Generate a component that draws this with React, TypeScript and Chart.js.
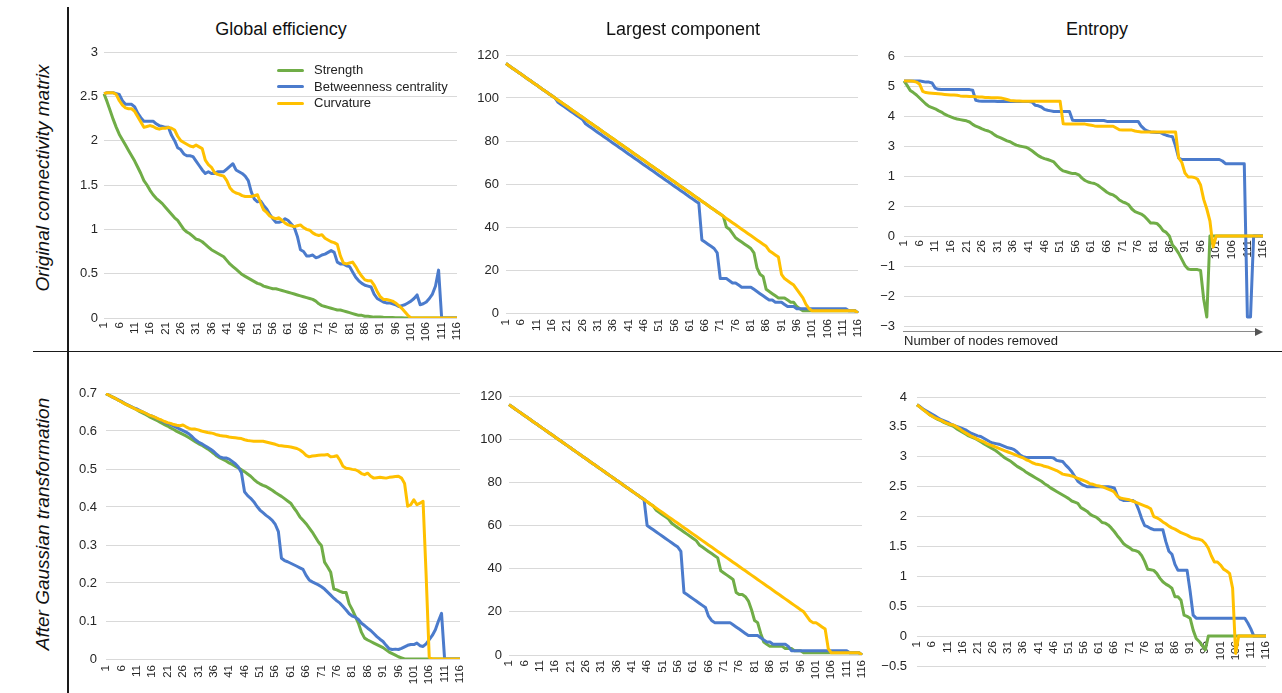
import React, { useEffect, useRef } from "react";
import { Chart, registerables } from "chart.js";

Chart.register(...registerables);

const FONT = '"Liberation Sans", Arial, Helvetica, sans-serif';
Chart.defaults.font.family = FONT;

const categories = [
  "1","2","3","4","5","6","7","8","9","10","11","12","13","14","15","16","17","18","19","20",
  "21","22","23","24","25","26","27","28","29","30","31","32","33","34","35","36","37","38","39","40",
  "41","42","43","44","45","46","47","48","49","50","51","52","53","54","55","56","57","58","59","60",
  "61","62","63","64","65","66","67","68","69","70","71","72","73","74","75","76","77","78","79","80",
  "81","82","83","84","85","86","87","88","89","90","91","92","93","94","95","96","97","98","99","100",
  "101","102","103","104","105","106","107","108","109","110","111","112","113","114","115","116"
];

const xTickLabels = ["1","6","11","16","21","26","31","36","41","46","51","56","61","66","71","76","81","86","91","96","101","106","111","116"];

const seriesNames = ["Strength", "Betweenness centrality", "Curvature"];
const seriesColors = ["#70AD47", "#4B7BCC", "#FFC000"];

// ---------- Original connectivity matrix ----------
const geOrigStrength = [
  2.53,2.44,2.34,2.24,2.15,2.07,2.01,1.95,1.89,1.83,
  1.77,1.70,1.63,1.55,1.50,1.44,1.39,1.35,1.32,1.29,
  1.25,1.21,1.17,1.13,1.10,1.05,1.00,0.97,0.95,0.92,
  0.89,0.88,0.86,0.83,0.80,0.77,0.75,0.73,0.71,0.69,
  0.65,0.61,0.58,0.55,0.52,0.49,0.47,0.45,0.43,0.41,
  0.39,0.38,0.36,0.35,0.34,0.33,0.33,0.32,0.31,0.30,
  0.29,0.28,0.27,0.26,0.25,0.24,0.23,0.22,0.21,0.19,
  0.16,0.14,0.13,0.12,0.11,0.10,0.09,0.09,0.08,0.07,
  0.06,0.05,0.04,0.03,0.03,0.02,0.02,0.015,0.01,0.01,
  0.01,0.008,0.007,0.006,0.005,0.004,0.003,0.002,0.001,0,
  0,0,0,0,0,0,0,0,0,0,
  0,0,0,0,0,0
];
const geOrigBetweenness = [
  2.53,2.54,2.54,2.54,2.53,2.52,2.45,2.41,2.41,2.41,
  2.38,2.31,2.26,2.22,2.22,2.22,2.22,2.19,2.17,2.16,
  2.15,2.15,2.06,2.00,1.92,1.90,1.85,1.83,1.83,1.82,
  1.77,1.72,1.67,1.63,1.65,1.63,1.63,1.65,1.65,1.65,
  1.68,1.71,1.74,1.67,1.65,1.63,1.60,1.55,1.42,1.34,
  1.31,1.32,1.27,1.23,1.17,1.12,1.08,1.08,1.09,1.12,
  1.10,1.06,1.02,0.92,0.77,0.75,0.70,0.70,0.71,0.68,
  0.69,0.71,0.72,0.74,0.76,0.74,0.63,0.61,0.61,0.59,
  0.58,0.52,0.46,0.42,0.39,0.37,0.36,0.35,0.27,0.22,
  0.20,0.18,0.17,0.17,0.16,0.15,0.13,0.14,0.15,0.17,
  0.19,0.22,0.26,0.15,0.16,0.18,0.22,0.27,0.36,0.54,
  0,0,0,0,0,0
];
const geOrigCurvature = [
  2.53,2.54,2.54,2.54,2.52,2.45,2.40,2.37,2.36,2.36,
  2.33,2.27,2.21,2.15,2.16,2.17,2.16,2.14,2.13,2.14,
  2.14,2.15,2.14,2.12,2.05,2.00,1.98,1.96,1.94,1.93,
  1.95,1.93,1.91,1.78,1.73,1.70,1.64,1.62,1.61,1.60,
  1.55,1.47,1.43,1.41,1.40,1.38,1.37,1.37,1.37,1.38,
  1.39,1.30,1.22,1.19,1.15,1.13,1.12,1.13,1.10,1.07,
  1.05,1.04,1.03,1.04,1.05,1.02,1.00,0.99,0.96,0.94,
  0.93,0.94,0.90,0.88,0.86,0.85,0.83,0.70,0.62,0.61,
  0.62,0.63,0.58,0.52,0.47,0.43,0.42,0.42,0.37,0.30,
  0.24,0.21,0.21,0.20,0.19,0.17,0.14,0.11,0.07,0.03,
  0,0,0,0,0,0,0,0,0,0,
  0,0,0,0,0,0
];

const lcOrigStrength = [
  116,115,114,113,112,111,110,109,108,107,
  106,105,104,103,102,101,100,99,98,97,
  96,95,94,93,92,91,90,89,88,87,
  86,85,84,83,82,81,80,79,78,77,
  76,75,74,73,72,71,70,69,68,67,
  66,65,64,63,62,61,60,59,58,57,
  56,55,54,53,52,51,50,49,48,47,
  46,45,40,39,37,35,34,33,32,31,
  30,28,21,18,17,11,10,9,8,7,
  7,7,6,5,5,3,2,1,1,1,
  1,1,1,1,1,1,1,1,1,1,
  1,1,1,1,1,0
];
const lcOrigBetweenness = [
  116,115,114,113,112,111,110,109,108,107,
  106,105,104,103,102,101,100,98,97,96,
  95,94,93,92,91,90,88,87,86,85,
  84,83,82,81,80,79,78,77,76,75,
  74,73,72,71,70,69,68,67,66,65,
  64,63,62,61,60,59,58,57,56,55,
  54,53,52,51,34,33,32,31,30,28,
  16,16,16,15,14,14,13,12,12,12,
  12,11,10,9,8,7,6,6,5,5,
  5,4,3,3,3,2,2,2,2,2,
  2,2,2,2,2,2,2,2,2,2,
  2,2,1,1,1,0
];
const lcOrigCurvature = [
  116,115,114,113,112,111,110,109,108,107,
  106,105,104,103,102,101,100,99,98,97,
  96,95,94,93,92,91,90,89,88,87,
  86,85,84,83,82,81,80,79,78,77,
  76,75,74,73,72,71,70,69,68,67,
  66,65,64,63,62,61,60,59,58,57,
  56,55,54,53,52,51,50,49,48,47,
  46,45,44,43,42,41,40,39,38,37,
  36,35,34,33,32,31,29,28,27,26,
  18,16,15,14,13,11,9,7,4,2,
  1,1,1,1,1,1,1,1,1,1,
  1,1,1,1,1,0
];

const entOrigStrength = [
  5.17,5.02,4.85,4.78,4.70,4.60,4.50,4.40,4.32,4.28,
  4.24,4.18,4.13,4.06,4.01,3.97,3.93,3.90,3.88,3.86,
  3.84,3.80,3.72,3.66,3.62,3.57,3.53,3.50,3.45,3.37,
  3.31,3.27,3.22,3.17,3.14,3.08,3.03,3.00,2.98,2.96,
  2.91,2.84,2.76,2.68,2.62,2.58,2.55,2.51,2.47,2.35,
  2.24,2.17,2.14,2.11,2.08,2.08,2.04,1.93,1.85,1.80,
  1.77,1.75,1.70,1.62,1.54,1.46,1.40,1.37,1.30,1.20,
  1.14,1.10,1.04,0.90,0.81,0.77,0.73,0.66,0.55,0.43,
  0.43,0.42,0.32,0.18,0.12,0.00,-0.30,-0.42,-0.58,-0.78,
  -0.98,-1.10,-1.12,-1.12,-1.12,-1.15,-2.10,-2.70,0,0,
  0,0,0,0,0,0,0,0,0,0,
  0,0,0,0,0,0
];
const entOrigBetweenness = [
  5.17,5.17,5.17,5.17,5.17,5.17,5.15,5.13,5.13,5.10,
  4.93,4.89,4.88,4.88,4.88,4.88,4.88,4.88,4.88,4.88,
  4.88,4.88,4.86,4.52,4.50,4.49,4.49,4.49,4.49,4.49,
  4.48,4.48,4.48,4.48,4.48,4.48,4.48,4.48,4.48,4.48,
  4.48,4.47,4.36,4.34,4.30,4.22,4.19,4.17,4.15,4.15,
  4.15,4.15,4.15,4.15,3.86,3.85,3.85,3.85,3.85,3.85,
  3.85,3.85,3.85,3.85,3.85,3.82,3.82,3.82,3.82,3.82,
  3.82,3.82,3.82,3.82,3.82,3.82,3.66,3.56,3.50,3.47,
  3.46,3.45,3.45,3.40,3.36,3.33,3.31,3.00,2.60,2.55,
  2.55,2.55,2.55,2.55,2.55,2.55,2.55,2.55,2.55,2.55,
  2.55,2.55,2.50,2.41,2.41,2.41,2.41,2.41,2.41,2.41,
  -2.70,-2.70,0,0,0,0
];
const entOrigCurvature = [
  5.17,5.17,5.17,5.16,5.13,5.06,4.82,4.78,4.77,4.76,
  4.75,4.74,4.73,4.72,4.71,4.70,4.70,4.69,4.67,4.66,
  4.66,4.65,4.65,4.64,4.63,4.63,4.62,4.62,4.61,4.61,
  4.61,4.60,4.58,4.55,4.52,4.51,4.50,4.50,4.49,4.49,
  4.49,4.49,4.49,4.49,4.49,4.49,4.49,4.49,4.49,4.49,
  4.49,3.74,3.73,3.73,3.73,3.73,3.73,3.73,3.73,3.71,
  3.69,3.67,3.66,3.66,3.66,3.66,3.66,3.66,3.60,3.54,
  3.53,3.53,3.53,3.53,3.50,3.48,3.47,3.47,3.47,3.47,
  3.47,3.47,3.47,3.47,3.47,3.47,3.47,3.47,2.60,2.45,
  2.10,1.97,1.97,1.95,1.90,1.70,1.22,0.90,0.50,-0.37,
  0,0,0,0,0,0,0,0,0,0,
  0,0,0,0,0,0
];

// ---------- After Gaussian transformation ----------
const geGaussStrength = [
  0.698,0.694,0.690,0.686,0.681,0.677,0.672,0.668,0.664,0.660,
  0.656,0.651,0.647,0.643,0.638,0.634,0.630,0.626,0.621,0.617,
  0.613,0.608,0.604,0.599,0.595,0.591,0.587,0.582,0.577,0.572,
  0.567,0.563,0.558,0.553,0.547,0.541,0.534,0.529,0.525,0.521,
  0.516,0.512,0.507,0.503,0.498,0.493,0.487,0.481,0.473,0.466,
  0.461,0.457,0.454,0.449,0.444,0.438,0.433,0.428,0.422,0.416,
  0.410,0.398,0.387,0.374,0.365,0.356,0.345,0.334,0.321,0.308,
  0.298,0.255,0.242,0.228,0.184,0.182,0.178,0.175,0.175,0.145,
  0.130,0.112,0.094,0.070,0.055,0.050,0.046,0.042,0.038,0.034,
  0.030,0.024,0.018,0.014,0.010,0.006,0.003,0,0,0,
  0,0,0,0,0,0,0,0,0,0,
  0,0,0,0,0,0
];
const geGaussBetweenness = [
  0.698,0.694,0.690,0.686,0.682,0.678,0.673,0.669,0.665,0.661,
  0.658,0.654,0.650,0.646,0.642,0.639,0.635,0.631,0.627,0.623,
  0.620,0.617,0.613,0.609,0.605,0.601,0.597,0.592,0.585,0.577,
  0.571,0.567,0.562,0.557,0.552,0.546,0.538,0.532,0.529,0.529,
  0.526,0.520,0.514,0.505,0.490,0.440,0.430,0.423,0.414,0.402,
  0.392,0.385,0.378,0.372,0.365,0.354,0.335,0.265,0.259,0.256,
  0.252,0.248,0.244,0.240,0.236,0.220,0.208,0.203,0.199,0.195,
  0.190,0.184,0.176,0.168,0.160,0.153,0.147,0.138,0.129,0.119,
  0.113,0.110,0.104,0.094,0.088,0.081,0.075,0.067,0.059,0.052,
  0.046,0.036,0.027,0.025,0.026,0.025,0.028,0.032,0.036,0.038,
  0.038,0.042,0.035,0.033,0.040,0.051,0.062,0.077,0.100,0.120,
  0,0,0,0,0,0
];
const geGaussCurvature = [
  0.698,0.694,0.690,0.686,0.681,0.677,0.672,0.668,0.664,0.660,
  0.656,0.653,0.650,0.646,0.642,0.639,0.636,0.632,0.629,0.625,
  0.622,0.620,0.617,0.615,0.614,0.616,0.611,0.607,0.605,0.605,
  0.603,0.600,0.598,0.596,0.595,0.593,0.590,0.588,0.587,0.586,
  0.584,0.583,0.582,0.581,0.580,0.577,0.575,0.574,0.573,0.573,
  0.573,0.573,0.571,0.569,0.567,0.565,0.562,0.561,0.560,0.559,
  0.558,0.556,0.554,0.550,0.544,0.536,0.532,0.534,0.535,0.536,
  0.537,0.537,0.538,0.532,0.533,0.535,0.523,0.507,0.502,0.501,
  0.499,0.498,0.494,0.488,0.485,0.489,0.481,0.476,0.477,0.478,
  0.477,0.476,0.478,0.479,0.480,0.481,0.476,0.462,0.402,0.406,
  0.419,0.406,0.410,0.415,0.220,0.005,0,0,0,0,
  0,0,0,0,0,0
];

const lcGaussStrength = [
  116,115,114,113,112,111,110,109,108,107,
  106,105,104,103,102,101,100,99,98,97,
  96,95,94,93,92,91,90,89,88,87,
  86,85,84,83,82,81,80,79,78,77,
  76,75,74,73,72,71,70,69,67,66,
  65,64,63,61,60,59,58,57,56,55,
  54,53,51,50,49,48,47,46,45,39,
  38,37,36,35,29,28,28,27,25,21,
  16,15,10,6,5,4,4,4,4,4,
  3,3,3,2,2,2,1,1,1,1,
  1,1,1,1,1,1,1,1,1,1,
  1,1,1,1,1,0
];
const lcGaussBetweenness = [
  116,115,114,113,112,111,110,109,108,107,
  106,105,104,103,102,101,100,99,98,97,
  96,95,94,93,92,91,90,89,88,87,
  86,85,84,83,82,81,80,79,78,77,
  76,75,74,73,72,60,59,58,57,56,
  55,54,53,52,51,50,48,29,28,27,
  26,25,24,23,22,18,16,15,15,15,
  15,15,15,14,13,12,11,10,9,9,
  9,9,8,7,6,6,5,5,5,5,
  5,4,2,2,2,2,2,2,2,2,
  2,2,2,2,2,2,2,2,2,2,
  2,1,1,1,1,0
];
const lcGaussCurvature = [
  116,115,114,113,112,111,110,109,108,107,
  106,105,104,103,102,101,100,99,98,97,
  96,95,94,93,92,91,90,89,88,87,
  86,85,84,83,82,81,80,79,78,77,
  76,75,74,73,72,71,70,69,68,67,
  66,65,64,63,62,61,60,59,58,57,
  56,55,54,53,52,51,50,49,48,47,
  46,45,44,43,42,41,40,39,38,37,
  36,35,34,33,32,31,30,29,28,27,
  26,25,24,23,22,21,20,18,16,15,
  15,14,13,12,3,1,1,1,1,1,
  1,1,1,1,1,0
];

const entGaussStrength = [
  3.87,3.83,3.79,3.75,3.71,3.68,3.65,3.62,3.60,3.57,
  3.55,3.53,3.51,3.47,3.44,3.41,3.38,3.35,3.33,3.31,
  3.28,3.25,3.22,3.19,3.16,3.13,3.10,3.06,3.02,2.98,
  2.95,2.92,2.88,2.84,2.81,2.78,2.74,2.71,2.68,2.65,
  2.62,2.59,2.55,2.52,2.48,2.45,2.42,2.39,2.36,2.33,
  2.30,2.26,2.24,2.22,2.15,2.12,2.09,2.04,2.01,1.99,
  1.95,1.90,1.89,1.86,1.81,1.75,1.68,1.62,1.55,1.51,
  1.48,1.44,1.43,1.41,1.35,1.25,1.12,1.11,1.10,1.05,
  0.97,0.91,0.87,0.84,0.80,0.66,0.66,0.60,0.35,0.33,
  0.30,0.10,-0.04,-0.09,-0.16,-0.23,0,0,0,0,
  0,0,0,0,0,0,0,0,0,0,
  0,0,0,0,0,0
];
const entGaussBetweenness = [
  3.87,3.84,3.80,3.77,3.74,3.71,3.68,3.65,3.62,3.60,
  3.58,3.55,3.53,3.51,3.49,3.47,3.45,3.42,3.39,3.37,
  3.35,3.34,3.31,3.28,3.25,3.23,3.22,3.21,3.19,3.17,
  3.15,3.14,3.12,3.08,3.03,3.00,2.99,2.99,2.99,2.99,
  2.99,2.99,2.99,2.99,2.99,2.98,2.94,2.93,2.92,2.86,
  2.81,2.75,2.67,2.59,2.55,2.52,2.50,2.50,2.50,2.50,
  2.50,2.50,2.50,2.50,2.49,2.48,2.35,2.29,2.27,2.27,
  2.27,2.27,2.24,2.12,1.97,1.85,1.83,1.80,1.78,1.78,
  1.78,1.78,1.58,1.42,1.37,1.20,1.10,1.10,1.10,1.10,
  0.75,0.35,0.30,0.30,0.30,0.30,0.30,0.30,0.30,0.30,
  0.30,0.30,0.30,0.30,0.30,0.30,0.30,0.30,0.30,0.22,
  0.12,0,0,0,0,0
];
const entGaussCurvature = [
  3.87,3.83,3.79,3.75,3.71,3.68,3.65,3.63,3.61,3.58,
  3.56,3.54,3.53,3.50,3.47,3.43,3.40,3.37,3.34,3.32,
  3.29,3.27,3.25,3.22,3.20,3.18,3.16,3.14,3.12,3.10,
  3.08,3.06,3.04,3.02,3.00,2.98,2.95,2.93,2.90,2.88,
  2.87,2.86,2.84,2.83,2.81,2.79,2.77,2.74,2.71,2.70,
  2.69,2.68,2.66,2.64,2.62,2.60,2.58,2.55,2.54,2.52,
  2.51,2.50,2.48,2.46,2.44,2.41,2.34,2.31,2.30,2.29,
  2.28,2.26,2.24,2.22,2.20,2.18,2.16,2.13,2.00,1.98,
  1.95,1.91,1.88,1.84,1.81,1.79,1.76,1.73,1.71,1.69,
  1.66,1.64,1.63,1.62,1.60,1.55,1.47,1.34,1.24,1.24,
  1.19,1.12,1.09,1.05,0.80,-0.29,0,0,0,0,
  0,0,0,0,0,0
];

// ---------- Y tick values and labels ----------
const yValsGEOrig = [0, 0.5, 1, 1.5, 2, 2.5, 3];
const yLabsGEOrig = ["0", "0.5", "1", "1.5", "2", "2.5", "3"];
const yValsLC = [0, 20, 40, 60, 80, 100, 120];
const yLabsLC = ["0", "20", "40", "60", "80", "100", "120"];
const yValsEntOrig = [-3, -2, -1, 0, 1, 2, 3, 4, 5, 6];
const yLabsEntOrig = ["\u22123", "\u22122", "\u22121", "0", "2", "1", "3", "4", "5", "6"];
const yValsGEGauss = [0, 0.1, 0.2, 0.3, 0.4, 0.5, 0.6, 0.7];
const yLabsGEGauss = ["0", "0.1", "0.2", "0.3", "0.4", "0.5", "0.6", "0.7"];
const yValsEntGauss = [-0.5, 0, 0.5, 1, 1.5, 2, 2.5, 3, 3.5, 4];
const yLabsEntGauss = ["\u22120.5", "0", "0.5", "1", "1.5", "2", "2.5", "3", "3.5", "4"];

type Box = { left: number; top: number; width: number; height: number };
type PanelProps = {
  box: Box;
  series: number[][];
  yVals: number[];
  yLabs: string[];
  xAtZero: boolean;
  yPad: number;
  xPad: number;
};

function Panel(p: PanelProps) {
  const ref = useRef<HTMLCanvasElement>(null);
  useEffect(() => {
    const yMin = p.yVals[0];
    const yMax = p.yVals[p.yVals.length - 1];
    const chart = new Chart(ref.current as HTMLCanvasElement, {
      type: "line",
      data: {
        labels: categories,
        datasets: p.series.map((vals, k) => ({
          label: seriesNames[k],
          data: vals,
          borderColor: seriesColors[k],
          backgroundColor: seriesColors[k],
          borderWidth: 3,
          pointRadius: 0,
          pointHoverRadius: 0,
          tension: 0,
          fill: false,
          order: 3 - k,
          borderJoinStyle: "round",
        })),
      },
      options: {
        animation: false,
        responsive: true,
        maintainAspectRatio: false,
        events: [],
        layout: { padding: { left: 0, top: 10, right: 12, bottom: p.xAtZero ? 10 : 0 } },
        plugins: { legend: { display: false }, tooltip: { enabled: false } },
        scales: {
          x: {
            type: "category",
            offset: false,
            position: p.xAtZero ? { y: 0 } : "bottom",
            grid: { display: false, drawTicks: false },
            border: { display: false },
            ticks: {
              autoSkip: false,
              minRotation: 90,
              maxRotation: 90,
              padding: p.xPad,
              color: "#262626",
              font: { family: FONT, size: 11.5 },
              callback: (_v: any, i: number) =>
                xTickLabels.includes(categories[i]) ? categories[i] : "",
            },
            afterFit: (s: any) => {
              s.height = p.xAtZero ? 0 : 32;
              s.paddingLeft = 0;
              s.paddingRight = 0;
            },
          },
          y: {
            type: "linear",
            min: yMin,
            max: yMax,
            grid: { color: "#D9D9D9", lineWidth: 1, drawTicks: false },
            border: { display: false },
            ticks: {
              padding: p.yPad,
              color: "#262626",
              font: { family: FONT, size: 13 },
              callback: (_v: any, i: number) => p.yLabs[i],
            },
            afterBuildTicks: (s: any) => {
              s.ticks = p.yVals.map((v) => ({ value: v }));
            },
            afterFit: (s: any) => {
              s.width = 50;
              s.paddingTop = 0;
              s.paddingBottom = 0;
            },
          },
        },
      } as any,
    });
    return () => chart.destroy();
  }, []);
  return (
    <div style={{ position: "absolute", left: p.box.left, top: p.box.top, width: p.box.width, height: p.box.height }}>
      <canvas ref={ref} />
    </div>
  );
}

const txt: React.CSSProperties = { position: "absolute", fontFamily: FONT, color: "#111", whiteSpace: "nowrap" };

export default function App() {
  return (
    <div style={{ position: "absolute", left: 0, top: 0, width: 1282, height: 693, overflow: "hidden", background: "#fff" }}>
      <Panel box={{ left: 54, top: 42, width: 415, height: 308 }} series={[geOrigStrength, geOrigBetweenness, geOrigCurvature]} yVals={yValsGEOrig} yLabs={yLabsGEOrig} xAtZero={false} yPad={6} xPad={4} />
      <Panel box={{ left: 456, top: 45, width: 414, height: 300 }} series={[lcOrigStrength, lcOrigBetweenness, lcOrigCurvature]} yVals={yValsLC} yLabs={yLabsLC} xAtZero={false} yPad={7} xPad={6} />
      <Panel box={{ left: 854, top: 46, width: 421, height: 290 }} series={[entOrigStrength, entOrigBetweenness, entOrigCurvature]} yVals={yValsEntOrig} yLabs={yLabsEntOrig} xAtZero={true} yPad={9} xPad={4} />
      <Panel box={{ left: 56, top: 383, width: 416, height: 308 }} series={[geGaussStrength, geGaussBetweenness, geGaussCurvature]} yVals={yValsGEGauss} yLabs={yLabsGEGauss} xAtZero={false} yPad={9} xPad={6} />
      <Panel box={{ left: 459, top: 386, width: 415, height: 301 }} series={[lcGaussStrength, lcGaussBetweenness, lcGaussCurvature]} yVals={yValsLC} yLabs={yLabsLC} xAtZero={false} yPad={7} xPad={5} />
      <Panel box={{ left: 867, top: 387, width: 411, height: 289 }} series={[entGaussStrength, entGaussBetweenness, entGaussCurvature]} yVals={yValsEntGauss} yLabs={yLabsEntGauss} xAtZero={true} yPad={10} xPad={5} />

      {/* Column titles */}
      <div style={{ ...txt, left: 281, top: 19, fontSize: 18, lineHeight: "21px", transform: "translateX(-50%)" }}>Global efficiency</div>
      <div style={{ ...txt, left: 683, top: 19, fontSize: 18, lineHeight: "21px", transform: "translateX(-50%)" }}>Largest component</div>
      <div style={{ ...txt, left: 1097, top: 19, fontSize: 18, lineHeight: "21px", transform: "translateX(-50%)" }}>Entropy</div>

      {/* Row labels */}
      <div style={{ ...txt, left: 43, top: 178, fontSize: 19, fontStyle: "italic", lineHeight: "22px", transform: "translate(-50%, -50%) rotate(-90deg)" }}>Original connectivity matrix</div>
      <div style={{ ...txt, left: 43, top: 524, fontSize: 19, fontStyle: "italic", lineHeight: "22px", transform: "translate(-50%, -50%) rotate(-90deg)" }}>After Gaussian transformation</div>

      {/* Dividers */}
      <div style={{ position: "absolute", left: 67, top: 7, width: 1.5, height: 686, background: "#1a1a1a" }} />
      <div style={{ position: "absolute", left: 33, top: 350.5, width: 1249, height: 1.5, background: "#1a1a1a" }} />

      {/* Legend */}
      {seriesNames.map((name, k) => (
        <React.Fragment key={name}>
          <div style={{ position: "absolute", left: 277, top: 68.5 + k * 16.7, width: 27, height: 3, background: seriesColors[k], borderRadius: 1.5 }} />
          <div style={{ ...txt, left: 314, top: 62 + k * 16.7, fontSize: 13, lineHeight: "16px", color: "#222" }}>{name}</div>
        </React.Fragment>
      ))}

      {/* Arrow axis in top-right panel */}
      <div style={{ position: "absolute", left: 903, top: 331, width: 353, height: 1, background: "#8a8a8a" }} />
      <div style={{ position: "absolute", left: 1255, top: 327.5, width: 0, height: 0, borderTop: "4px solid transparent", borderBottom: "4px solid transparent", borderLeft: "8px solid #555" }} />
      <div style={{ ...txt, left: 904, top: 333, fontSize: 13, lineHeight: "15px", color: "#222" }}>Number of nodes removed</div>
    </div>
  );
}
